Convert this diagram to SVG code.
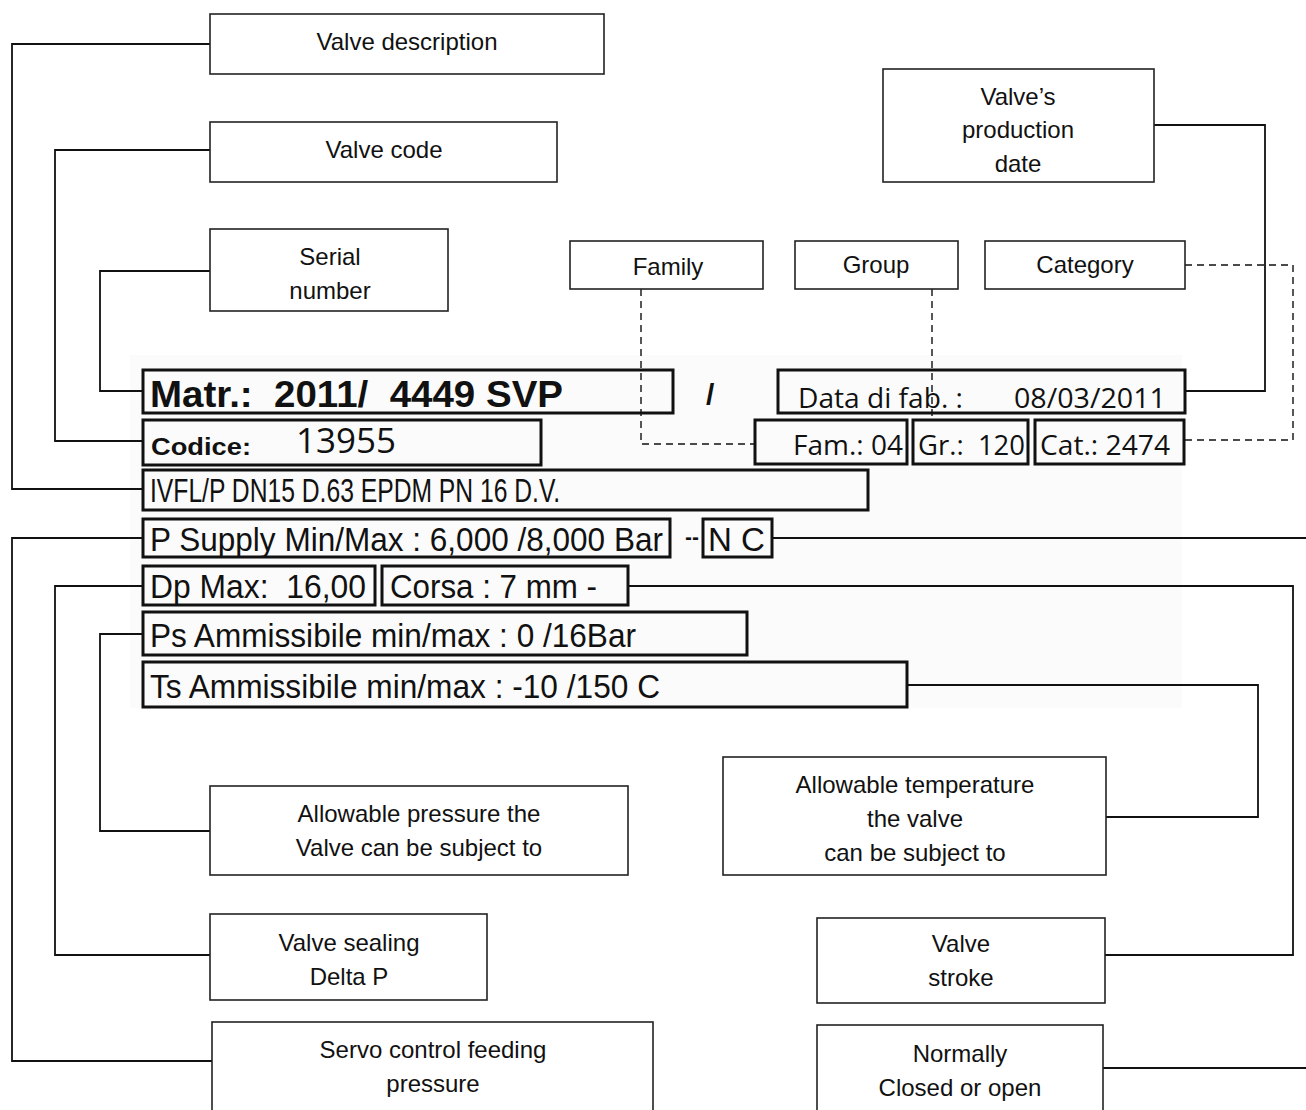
<svg xmlns="http://www.w3.org/2000/svg" width="1306" height="1110" viewBox="0 0 1306 1110">
<style>
.cb{fill:#fff;stroke:#222;stroke-width:1.6}
.lb{fill:none;stroke:#111;stroke-width:3}
.ct{font-family:"Liberation Sans",Arial,sans-serif;font-size:24px;fill:#111;text-anchor:middle}
.ln{fill:none;stroke:#111;stroke-width:1.8}
.dl{fill:none;stroke:#111;stroke-width:1.4;stroke-dasharray:7 5}
.nt{font-family:"Liberation Sans Narrow","Liberation Sans",Arial,sans-serif;font-size:33px;fill:#111}
.mt{font-family:"Open Sans","Liberation Sans",sans-serif;font-size:27px;fill:#111}
</style>
<rect x="130" y="355" width="1052" height="353" fill="#fbfbfb"/>
<g id="connectors">
<polyline class="ln" points="210,44 12,44 12,489 143,489"/>
<polyline class="ln" points="210,150 55,150 55,441 143,441"/>
<polyline class="ln" points="210,271 100,271 100,391 143,391"/>
<polyline class="ln" points="1154,125 1265,125 1265,391 1185,391"/>
<polyline class="ln" points="143,538 12,538 12,1061 212,1061"/>
<polyline class="ln" points="143,586 55,586 55,955 210,955"/>
<polyline class="ln" points="143,634 100,634 100,831 210,831"/>
<polyline class="ln" points="907,685 1258,685 1258,817 1106,817"/>
<polyline class="ln" points="628,586 1293,586 1293,955 1105,955"/>
<polyline class="ln" points="772,538 1306,538"/>
<polyline class="ln" points="1103,1068 1306,1068"/>
<polyline class="dl" points="641,289 641,444 755,444"/>
<polyline class="dl" points="932,289 932,420"/>
<polyline class="dl" points="1185,265 1293,265 1293,440 1184,440"/>
</g>
<g id="valve-description"><rect class="cb" x="210" y="14" width="394" height="60"/><text class="ct" x="407" y="50">Valve description</text></g>
<g id="valve-code"><rect class="cb" x="210" y="122" width="347" height="60"/><text class="ct" x="384" y="158">Valve code</text></g>
<g id="serial-number"><rect class="cb" x="210" y="229" width="238" height="82"/><text class="ct" x="330" y="265">Serial</text><text class="ct" x="330" y="299">number</text></g>
<g id="production-date"><rect class="cb" x="883" y="69" width="271" height="113"/><text class="ct" x="1018" y="105">Valve’s</text><text class="ct" x="1018" y="138">production</text><text class="ct" x="1018" y="172">date</text></g>
<g id="family"><rect class="cb" x="570" y="241" width="193" height="48"/><text class="ct" x="668" y="275">Family</text></g>
<g id="group"><rect class="cb" x="795" y="241" width="163" height="48"/><text class="ct" x="876" y="273">Group</text></g>
<g id="category"><rect class="cb" x="985" y="241" width="200" height="48"/><text class="ct" x="1085" y="273">Category</text></g>
<g id="allowable-pressure"><rect class="cb" x="210" y="786" width="418" height="89"/><text class="ct" x="419" y="822">Allowable pressure the</text><text class="ct" x="419" y="856">Valve can be subject to</text></g>
<g id="valve-sealing"><rect class="cb" x="210" y="914" width="277" height="86"/><text class="ct" x="349" y="951">Valve sealing</text><text class="ct" x="349" y="985">Delta P</text></g>
<g id="servo-pressure"><rect class="cb" x="212" y="1022" width="441" height="100"/><text class="ct" x="433" y="1058">Servo control feeding</text><text class="ct" x="433" y="1092">pressure</text></g>
<g id="allowable-temperature"><rect class="cb" x="723" y="757" width="383" height="118"/><text class="ct" x="915" y="793">Allowable temperature</text><text class="ct" x="915" y="827">the valve</text><text class="ct" x="915" y="861">can be subject to</text></g>
<g id="valve-stroke"><rect class="cb" x="817" y="918" width="288" height="85"/><text class="ct" x="961" y="952">Valve</text><text class="ct" x="961" y="986">stroke</text></g>
<g id="normally"><rect class="cb" x="817" y="1025" width="286" height="100"/><text class="ct" x="960" y="1062">Normally</text><text class="ct" x="960" y="1096">Closed or open</text></g>
<g id="label">
<rect class="lb" x="143" y="370" width="530" height="43"/>
<text x="150" y="407" font-family="Liberation Sans,Arial,sans-serif" font-weight="bold" font-size="37" fill="#111" textLength="413" lengthAdjust="spacingAndGlyphs" xml:space="preserve">Matr.:  2011/  4449 SVP</text>
<text x="706" y="405" font-family="Liberation Sans,Arial,sans-serif" font-weight="bold" font-size="30" fill="#111">/</text>
<rect class="lb" x="778" y="370" width="407" height="43"/>
<text class="mt" x="798" y="408" textLength="165" lengthAdjust="spacingAndGlyphs">Data di fab. :</text>
<text class="mt" x="1014" y="408" textLength="152" lengthAdjust="spacingAndGlyphs">08/03/2011</text>
<rect class="lb" x="143" y="420" width="398" height="45"/>
<text x="151" y="455" font-family="Liberation Sans,Arial,sans-serif" font-weight="bold" font-size="24" fill="#111" textLength="100" lengthAdjust="spacingAndGlyphs">Codice:</text>
<text x="296" y="453" font-family="Open Sans,Liberation Sans,sans-serif" font-size="34" fill="#111" textLength="100" lengthAdjust="spacingAndGlyphs">13955</text>
<rect class="lb" x="755" y="420" width="152" height="44"/>
<text class="mt" x="793" y="455" textLength="110" lengthAdjust="spacingAndGlyphs">Fam.: 04</text>
<rect class="lb" x="913" y="420" width="115" height="44"/>
<text class="mt" x="918" y="455" textLength="107" lengthAdjust="spacingAndGlyphs" xml:space="preserve">Gr.:  120</text>
<rect class="lb" x="1035" y="420" width="149" height="44"/>
<text class="mt" x="1040" y="455" textLength="130" lengthAdjust="spacingAndGlyphs">Cat.: 2474</text>
<rect class="lb" x="143" y="470" width="725" height="40"/>
<text class="nt" x="150" y="502" font-size="28" textLength="410" lengthAdjust="spacingAndGlyphs">IVFL/P DN15 D.63 EPDM PN 16 D.V.</text>
<rect class="lb" x="143" y="519" width="527" height="38"/>
<text class="nt" x="150" y="551" textLength="513" lengthAdjust="spacingAndGlyphs">P Supply Min/Max : 6,000 /8,000 Bar</text>
<text class="nt" x="685" y="548" font-size="26" textLength="14" lengthAdjust="spacingAndGlyphs">--</text>
<rect class="lb" x="703" y="519" width="69" height="38"/>
<text class="nt" x="708" y="551" textLength="57" lengthAdjust="spacingAndGlyphs">N C</text>
<rect class="lb" x="143" y="566" width="232" height="39"/>
<text class="nt" x="150" y="598" textLength="216" lengthAdjust="spacingAndGlyphs" xml:space="preserve">Dp Max:  16,00</text>
<rect class="lb" x="382" y="566" width="246" height="39"/>
<text class="nt" x="390" y="598" textLength="207" lengthAdjust="spacingAndGlyphs">Corsa : 7 mm -</text>
<rect class="lb" x="143" y="612" width="604" height="43"/>
<text class="nt" x="150" y="647" textLength="486" lengthAdjust="spacingAndGlyphs">Ps Ammissibile min/max : 0 /16Bar</text>
<rect class="lb" x="143" y="662" width="764" height="45"/>
<text class="nt" x="150" y="698" textLength="510" lengthAdjust="spacingAndGlyphs">Ts Ammissibile min/max : -10 /150 C</text>
</g>
</svg>
